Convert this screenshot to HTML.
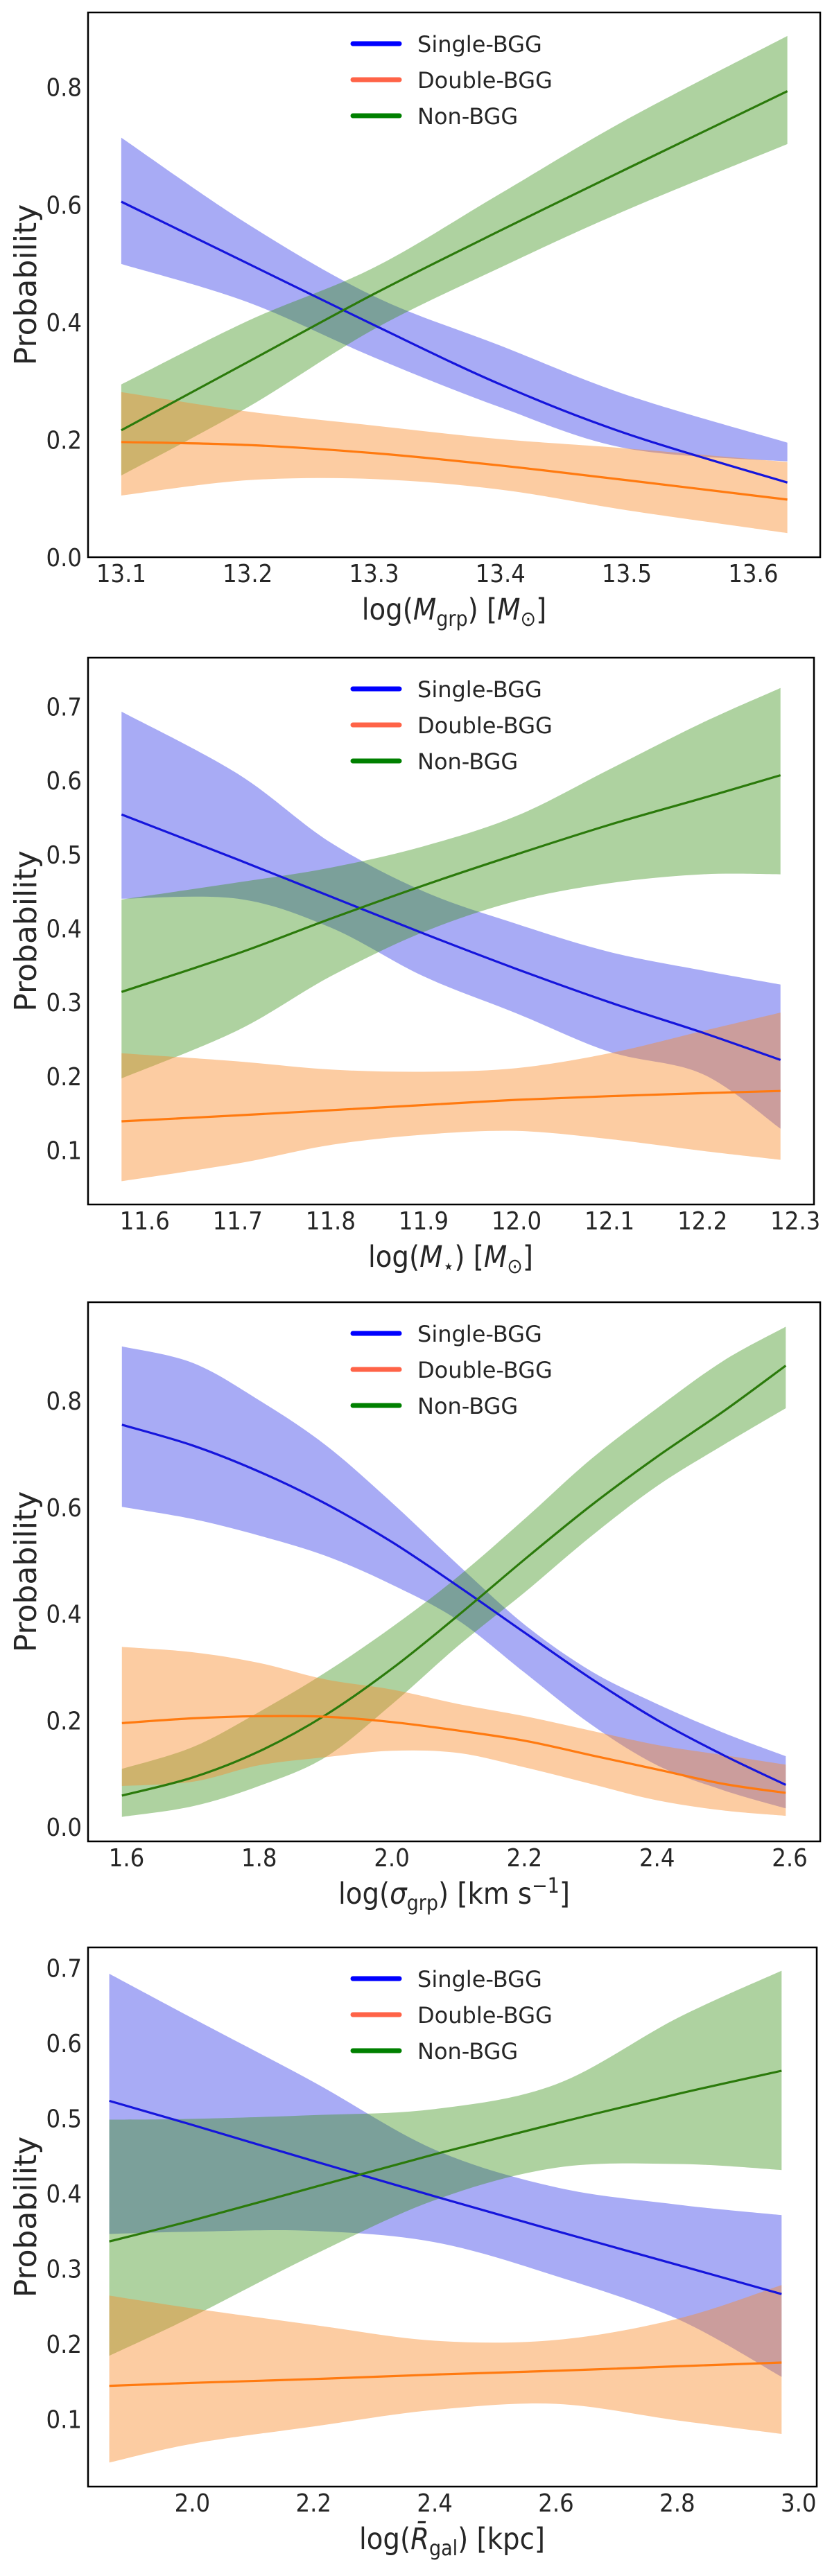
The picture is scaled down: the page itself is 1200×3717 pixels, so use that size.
<!DOCTYPE html>
<html><head><meta charset="utf-8"><style>
html,body{margin:0;padding:0;background:#fff;}
svg{display:block;}
.tk{font-family:"DejaVu Sans Condensed","DejaVu Sans",sans-serif;font-stretch:condensed;font-size:36px;fill:#262626;}
.xl{font-family:"DejaVu Sans Condensed","DejaVu Sans",sans-serif;font-stretch:condensed;font-size:43px;fill:#262626;}
.yl{font-family:"DejaVu Sans",sans-serif;font-size:44px;fill:#262626;}
.lg{font-family:"DejaVu Sans",sans-serif;font-size:32px;fill:#262626;}
</style></head><body>
<svg id="fig" width="1200" height="3717" viewBox="0 0 1200 3717" xmlns="http://www.w3.org/2000/svg">
<g id="p1"><text class="xl" x="655" y="894" text-anchor="middle">log(<tspan font-style="italic">M</tspan><tspan font-size="30" dy="9">grp</tspan><tspan dy="-9">) [</tspan><tspan font-style="italic">M</tspan><tspan font-size="30" dy="9">⊙</tspan><tspan dy="-9">]</tspan></text></g>
<g id="p2"><text class="xl" x="650" y="1828" text-anchor="middle">log(<tspan font-style="italic">M</tspan><tspan font-size="30" dy="9">⋆</tspan><tspan dy="-9">) [</tspan><tspan font-style="italic">M</tspan><tspan font-size="30" dy="9">⊙</tspan><tspan dy="-9">]</tspan></text></g>
<g id="p3"><text class="xl" x="655" y="2747" text-anchor="middle">log(<tspan font-style="italic">σ</tspan><tspan font-size="30" dy="9">grp</tspan><tspan dy="-9">) [km s</tspan><tspan font-size="30" dy="-16">−1</tspan><tspan dy="16">]</tspan></text></g>
<g id="p4"><text class="xl" x="652" y="3678" text-anchor="middle">log(<tspan font-style="italic">R̄</tspan><tspan font-size="30" dy="9">gal</tspan><tspan dy="-9">) [kpc]</tspan></text></g>
</svg>
<script>
// ---- Panel 1: log(M_grp)
const p1X = [13.1, 13.2, 13.3, 13.4, 13.5, 13.627];
const p1Single = [0.605, 0.50, 0.395, 0.294, 0.21, 0.127];
const p1SingleHi = [0.714, 0.567, 0.444, 0.36, 0.276, 0.195];
const p1SingleLo = [0.499, 0.434, 0.34, 0.255, 0.185, 0.163];
const p1Double = [0.196, 0.191, 0.177, 0.156, 0.131, 0.098];
const p1DoubleHi = [0.281, 0.248, 0.224, 0.201, 0.185, 0.162];
const p1DoubleLo = [0.105, 0.131, 0.133, 0.115, 0.080, 0.041];
const p1Non = [0.216, 0.332, 0.448, 0.556, 0.661, 0.793];
const p1NonHi = [0.294, 0.402, 0.493, 0.619, 0.745, 0.887];
const p1NonLo = [0.139, 0.255, 0.388, 0.493, 0.591, 0.703];
const p1XTicks = ["13.1","13.2","13.3","13.4","13.5","13.6"];
const p1YTicks = ["0.0","0.2","0.4","0.6","0.8"];

// ---- Panel 2: log(M_star)
const p2X = [11.575, 11.7, 11.8, 11.9, 12.0, 12.1, 12.2, 12.284];
const p2Single = [0.554, 0.493, 0.443, 0.393, 0.345, 0.300, 0.259, 0.222];
const p2SingleHi = [0.693, 0.609, 0.516, 0.450, 0.406, 0.368, 0.343, 0.324];
const p2SingleLo = [0.440, 0.440, 0.401, 0.335, 0.285, 0.233, 0.203, 0.129];
const p2Double = [0.139, 0.147, 0.154, 0.161, 0.168, 0.173, 0.177, 0.180];
const p2DoubleHi = [0.231, 0.220, 0.209, 0.206, 0.211, 0.231, 0.261, 0.286];
const p2DoubleLo = [0.058, 0.082, 0.107, 0.121, 0.126, 0.115, 0.099, 0.087];
const p2Non = [0.314, 0.366, 0.413, 0.458, 0.500, 0.540, 0.576, 0.607];
const p2NonHi = [0.439, 0.462, 0.482, 0.511, 0.552, 0.615, 0.678, 0.725];
const p2NonLo = [0.197, 0.262, 0.335, 0.395, 0.437, 0.461, 0.473, 0.473];
const p2XTicks = ["11.6","11.7","11.8","11.9","12.0","12.1","12.2","12.3"];
const p2YTicks = ["0.1","0.2","0.3","0.4","0.5","0.6","0.7"];

// ---- Panel 3: log(sigma_grp)
const p3X = [1.593, 1.7, 1.8, 1.9, 2.0, 2.1, 2.2, 2.3, 2.4, 2.5, 2.594];
const p3Single = [0.755, 0.716, 0.667, 0.607, 0.535, 0.452, 0.365, 0.279, 0.201, 0.135, 0.079];
const p3SingleHi = [0.902, 0.871, 0.801, 0.717, 0.609, 0.492, 0.380, 0.293, 0.231, 0.177, 0.133];
const p3SingleLo = [0.601, 0.578, 0.547, 0.509, 0.455, 0.388, 0.290, 0.193, 0.116, 0.069, 0.035];
const p3Double = [0.195, 0.204, 0.208, 0.207, 0.197, 0.181, 0.162, 0.135, 0.108, 0.081, 0.064];
const p3DoubleHi = [0.338, 0.328, 0.308, 0.277, 0.258, 0.231, 0.208, 0.181, 0.154, 0.135, 0.117];
const p3DoubleLo = [0.077, 0.085, 0.116, 0.131, 0.143, 0.139, 0.112, 0.081, 0.050, 0.031, 0.021];
const p3Non = [0.059, 0.093, 0.142, 0.210, 0.297, 0.397, 0.502, 0.603, 0.695, 0.780, 0.866];
const p3NonHi = [0.109, 0.150, 0.216, 0.290, 0.375, 0.470, 0.578, 0.690, 0.786, 0.875, 0.939];
const p3NonLo = [0.019, 0.039, 0.077, 0.131, 0.230, 0.340, 0.440, 0.545, 0.640, 0.717, 0.786];
const p3XTicks = ["1.6","1.8","2.0","2.2","2.4","2.6"];
const p3YTicks = ["0.0","0.2","0.4","0.6","0.8"];

// ---- Panel 4: log(R_gal)
const p4X = [1.863, 2.0, 2.2, 2.4, 2.6, 2.8, 2.972];
const p4Single = [0.523, 0.491, 0.443, 0.396, 0.350, 0.305, 0.266];
const p4SingleHi = [0.692, 0.633, 0.548, 0.458, 0.408, 0.385, 0.371];
const p4SingleLo = [0.346, 0.349, 0.350, 0.335, 0.290, 0.233, 0.156];
const p4Double = [0.144, 0.148, 0.153, 0.159, 0.164, 0.170, 0.175];
const p4DoubleHi = [0.264, 0.247, 0.225, 0.204, 0.205, 0.233, 0.278];
const p4DoubleLo = [0.042, 0.067, 0.090, 0.112, 0.120, 0.098, 0.080];
const p4Non = [0.336, 0.364, 0.408, 0.452, 0.493, 0.532, 0.563];
const p4NonHi = [0.498, 0.499, 0.504, 0.512, 0.545, 0.633, 0.696];
const p4NonLo = [0.184, 0.236, 0.318, 0.391, 0.434, 0.439, 0.431];
const p4XTicks = ["2.0","2.2","2.4","2.6","2.8","3.0"];
const p4YTicks = ["0.1","0.2","0.3","0.4","0.5","0.6","0.7"];

const NS = "http://www.w3.org/2000/svg";
function mk(tag, attrs, parent){ const e=document.createElementNS(NS,tag); for(const k in attrs) e.setAttribute(k,attrs[k]); if(parent) parent.appendChild(e); return e; }
function smooth(pts, move){
  let d = (move? "M":"L") + pts[0][0].toFixed(1)+","+pts[0][1].toFixed(1);
  for(let i=0;i<pts.length-1;i++){
    const p0=pts[Math.max(i-1,0)], p1=pts[i], p2=pts[i+1], p3=pts[Math.min(i+2,pts.length-1)];
    const c1=[p1[0]+(p2[0]-p0[0])/6, p1[1]+(p2[1]-p0[1])/6];
    const c2=[p2[0]-(p3[0]-p1[0])/6, p2[1]-(p3[1]-p1[1])/6];
    d+=" C"+c1[0].toFixed(1)+","+c1[1].toFixed(1)+" "+c2[0].toFixed(1)+","+c2[1].toFixed(1)+" "+p2[0].toFixed(1)+","+p2[1].toFixed(1);
  }
  return d;
}
function panel(gid, box, xlim, ylim, xs, series, xticks, yticks){
  const g=document.getElementById(gid);
  const sx=v=>box.l+(v-xlim[0])/(xlim[1]-xlim[0])*(box.r-box.l);
  const sy=v=>box.b-(v-ylim[0])/(ylim[1]-ylim[0])*(box.b-box.t);
  const bands=mk("g",{},g);
  
  
  const lines=mk("g",{},g);
  
  
  series.forEach(s=>{
    const up=xs.map((x,i)=>[sx(x),sy(s.hi[i])]);
    const lo=xs.map((x,i)=>[sx(x),sy(s.lo[i])]).reverse();
    const b=mk("path",{d:smooth(up,true)+" "+smooth(lo,false)+" Z",fill:s.fill,"fill-opacity":s.op},bands);
    
    
    const ln=mk("path",{d:smooth(xs.map((x,i)=>[sx(x),sy(s.mid[i])]),true),fill:"none",stroke:s.line,"stroke-width":3.2},lines);
    
    
  });
  const fr=mk("rect",{x:box.l,y:box.t,width:box.r-box.l,height:box.b-box.t,fill:"none",stroke:"#000","stroke-width":2.5},g);
  
  
  xticks.forEach(t=>{
    const e=mk("text",{class:"tk",x:sx(parseFloat(t)),y:box.b+36,"text-anchor":"middle"},g); e.textContent=t;
    
    
  });
  yticks.forEach(t=>{
    const e=mk("text",{class:"tk",x:118,y:sy(parseFloat(t))+13,"text-anchor":"end"},g); e.textContent=t;
    
    
  });
  const cy=(box.t+box.b)/2;
  const yl=mk("text",{class:"yl",x:0,y:0,"text-anchor":"middle",transform:"translate(52,"+cy+") rotate(-90)"},g); yl.textContent="Probability";
  
  
  const leg=mk("g",{},g);
  
  
  const items=[["Single-BGG","#0000ff"],["Double-BGG","#ff6347"],["Non-BGG","#008000"]];
  items.forEach((it,i)=>{
    const y=box.t+45+i*52;
    const l=mk("line",{x1:509,x2:576,y1:y,y2:y,stroke:it[1],"stroke-width":7,"stroke-linecap":"round"},leg);
    
    
    const tx=mk("text",{class:"lg",x:602,y:y+12},leg); tx.textContent=it[0];
    
    
  });
}
const BL={fill:"#1a22e6",op:0.38,line:"#1515dc",name:"single-bgg"};
const OR={fill:"#f98a2c",op:0.44,line:"#ff7a10",name:"double-bgg"};
const GR={fill:"#3a9118",op:0.41,line:"#2b7a0b",name:"non-bgg"};
function S(base,mid,hi,lo){return Object.assign({},base,{mid:mid,hi:hi,lo:lo});}
panel("p1",{l:127,r:1183,t:18,b:804},[13.0737,13.653],[0,0.927],p1X,
  [S(BL,p1Single,p1SingleHi,p1SingleLo),S(GR,p1Non,p1NonHi,p1NonLo),S(OR,p1Double,p1DoubleHi,p1DoubleLo)],p1XTicks,p1YTicks);
panel("p2",{l:127,r:1174,t:949,b:1738},[11.539,12.32],[0.0265,0.766],p2X,
  [S(BL,p2Single,p2SingleHi,p2SingleLo),S(GR,p2Non,p2NonHi,p2NonLo),S(OR,p2Double,p2DoubleHi,p2DoubleLo)],p2XTicks,p2YTicks);
panel("p3",{l:127,r:1183,t:1879,b:2657},[1.542,2.646],[-0.027,0.985],p3X,
  [S(BL,p3Single,p3SingleHi,p3SingleLo),S(GR,p3Non,p3NonHi,p3NonLo),S(OR,p3Double,p3DoubleHi,p3DoubleLo)],p3XTicks,p3YTicks);
panel("p4",{l:127,r:1178,t:2810,b:3588},[1.828,3.03],[0.010,0.727],p4X,
  [S(BL,p4Single,p4SingleHi,p4SingleLo),S(GR,p4Non,p4NonHi,p4NonLo),S(OR,p4Double,p4DoubleHi,p4DoubleLo)],p4XTicks,p4YTicks);
</script>
</body></html>
